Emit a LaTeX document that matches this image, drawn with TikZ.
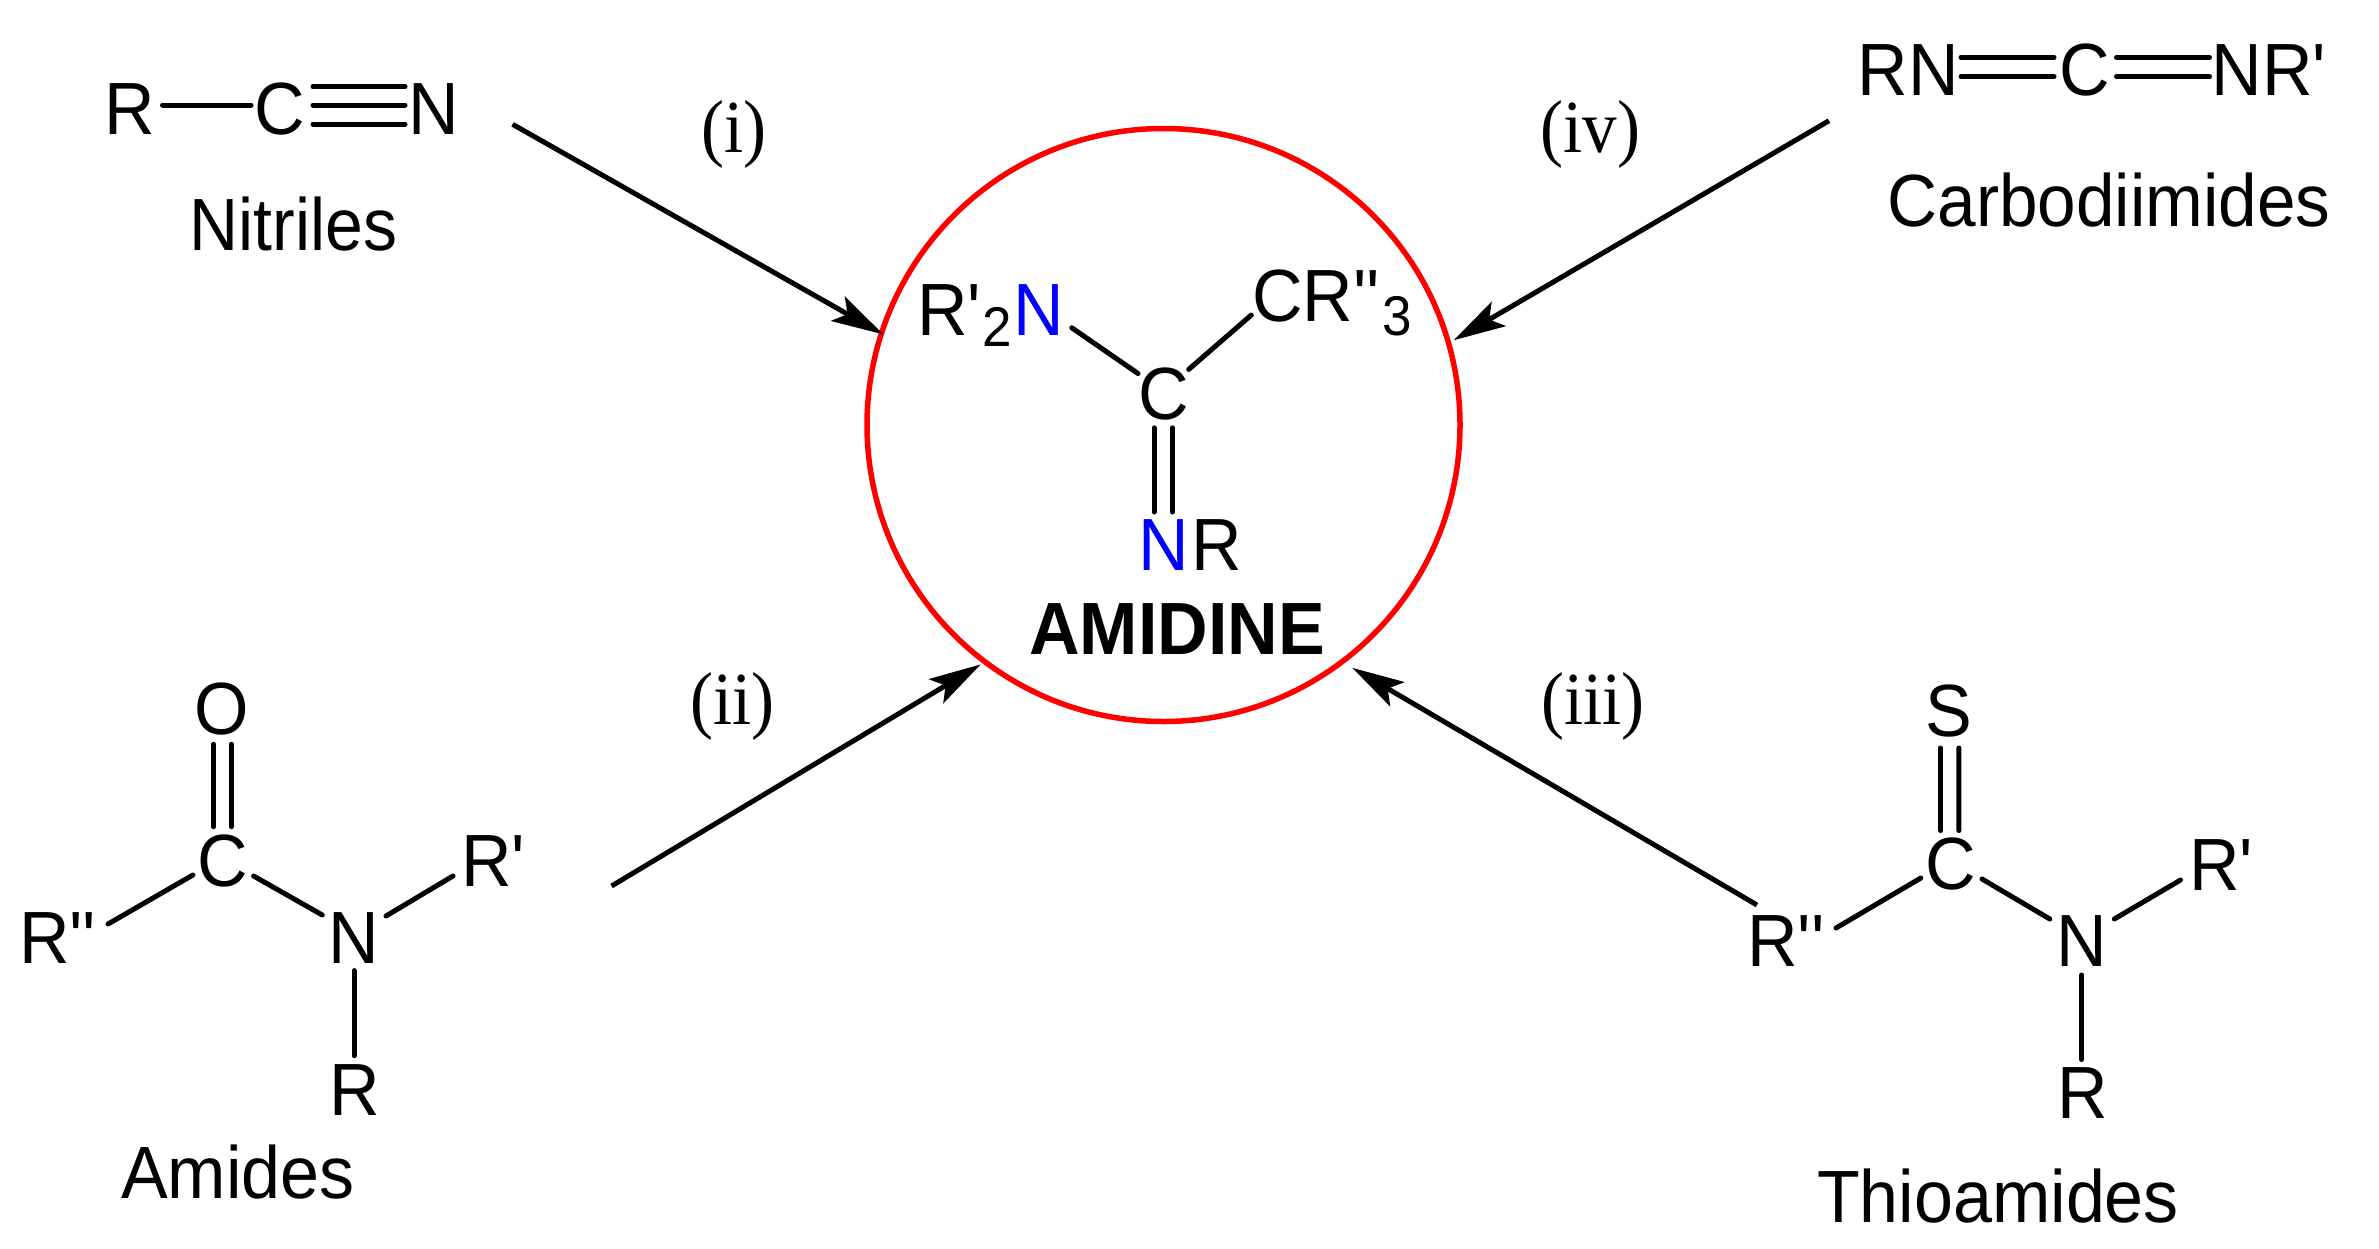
\documentclass[tikz,border=0pt]{standalone}
\usepackage{fontspec}
\newfontfamily\chemfont{Liberation Sans}[FakeStretch=0.946]
\newfontfamily\romanlabel{Liberation Serif}[FakeStretch=0.92]
\usetikzlibrary{arrows.meta}
\definecolor{ringred}{RGB}{255,0,0}
\definecolor{atomblue}{RGB}{0,0,255}
\tikzset{
  atom/.style={inner sep=0pt,outer sep=0pt,anchor=base,font=\chemfont\fontsize{74}{80}\selectfont},
  atomw/.style={atom,anchor=base west},
  classname/.style={atom},
  stepmark/.style={inner sep=0pt,outer sep=0pt,anchor=base,font=\romanlabel\fontsize{75}{80}\selectfont},
  bond/.style={line width=5pt,line cap=round,black},
  reaction/.style={line width=5pt,black,-{Stealth[length=52pt,width=28pt,inset=11pt]}},
}
\newcommand{\subs}[2]{\raisebox{#1}{\fontsize{56}{58}\selectfont #2}}
\begin{document}
\begin{tikzpicture}[x=1pt,y=-1pt]
\useasboundingbox (0,0) rectangle (2379,1248);
\fill[white] (0,0) rectangle (2379,1248);
% ring
\node[circle,draw=ringred,line width=5.5pt,minimum size=593pt,inner sep=0pt,outer sep=0pt] (ring) at (1163.5,425) {};
% amidine
\node[atom] (Cc) at (1163.5,419) {C};
\node[atomw] (Rtwo) at (917,335.5) {R'\kern2pt\subs{-10.5pt}{2}\kern1pt\textcolor{atomblue}{N}};
\node[atomw] (CRthree) at (1252,321) {CR''\kern3pt\subs{-14.5pt}{3}};
\node[atomw] (NR) at (1138,570.6) {\textcolor{atomblue}{N}\kern3pt R};
\node[atom,font=\chemfont\fontsize{74}{80}\selectfont\bfseries] (amidine) at (1177,654) {AMIDINE};
\draw[bond] ([shift={(154.8,-7.7)}]Rtwo.base west) -- ([shift={(-25.5,-45.5)}]Cc.base);
\draw[bond] ([shift={(25.2,-49.6)}]Cc.base) -- ([shift={(-0.7,-6)}]CRthree.base west);
\draw[bond] ([shift={(-9.5,8.8)}]Cc.base) -- ([shift={(16,-58.6)}]NR.base west);
\draw[bond] ([shift={(9,8.8)}]Cc.base) -- ([shift={(34.5,-58.6)}]NR.base west);
% nitrile
\node[atom] (Rn) at (130,134) {R};
\node[atom] (Cn) at (279.5,134) {C};
\node[atom] (Nn) at (433.3,134) {N};
\node[classname] (nitriles) at (293.5,250) {\scalebox{0.97}[1]{Nitriles}};
\draw[bond] ([shift={(32.5,-29)}]Rn.base) -- ([shift={(-28.5,-29)}]Cn.base);
\draw[bond] ([shift={(33.5,-47.3)}]Cn.base) -- ([shift={(-28.3,-47.3)}]Nn.base);
\draw[bond] ([shift={(33.5,-29)}]Cn.base) -- ([shift={(-28.3,-29)}]Nn.base);
\draw[bond] ([shift={(33.5,-10)}]Cn.base) -- ([shift={(-28.3,-10)}]Nn.base);
% carbodiimide
\node[atomw] (RNc) at (1857.5,95.7) {RN};
\node[atom] (Cd) at (2084.8,95.7) {C};
\node[atomw] (NRc) at (2211.7,95.7) {NR'};
\node[classname] (carbo) at (2109,226.5) {\scalebox{0.99}[1]{Carbodiimides}};
\draw[bond] ([shift={(103.5,-38.4)}]RNc.base west) -- ([shift={(-30.8,-38.4)}]Cd.base);
\draw[bond] ([shift={(103.5,-19)}]RNc.base west) -- ([shift={(-30.8,-19)}]Cd.base);
\draw[bond] ([shift={(31.7,-38.4)}]Cd.base) -- ([shift={(-2.2,-38.4)}]NRc.base west);
\draw[bond] ([shift={(31.7,-19)}]Cd.base) -- ([shift={(-2.2,-19)}]NRc.base west);
% amide
\node[atom] (Oam) at (221.8,734.5) {O};
\node[atom] (Cam) at (222.8,886) {C};
\node[atomw] (Ram) at (19,963) {R''};
\node[atom] (Nam) at (353.5,963) {N};
\node[atomw] (Rpam) at (461,886.6) {R'};
\node[atom] (Rbam) at (355,1115) {R};
\node[classname] (amides) at (238,1198.5) {Amides};
\draw[bond] ([shift={(-8.4,9.8)}]Oam.base) -- ([shift={(-9.4,-59.3)}]Cam.base);
\draw[bond] ([shift={(9.5,9.8)}]Oam.base) -- ([shift={(8.5,-59.3)}]Cam.base);
\draw[bond] ([shift={(89,-39)}]Ram.base west) -- ([shift={(-29.9,-11)}]Cam.base);
\draw[bond] ([shift={(30.8,-10)}]Cam.base) -- ([shift={(-31.2,-48)}]Nam.base);
\draw[bond] ([shift={(32.5,-47)}]Nam.base) -- ([shift={(-8,-10.6)}]Rpam.base west);
\draw[bond] ([shift={(0.5,7.6)}]Nam.base) -- ([shift={(-1,-59.3)}]Rbam.base);
% thioamide
\node[atom] (Sth) at (1949.3,736) {S};
\node[atom] (Cth) at (1951,889.5) {C};
\node[atomw] (Rth) at (1747.3,966.4) {R''};
\node[atom] (Nth) at (2081.3,966.4) {N};
\node[atomw] (Rpth) at (2189.3,890.5) {R'};
\node[atom] (Rbth) at (2083,1118.7) {R};
\node[classname] (thio) at (1998,1222) {Thioamides};
\draw[bond] ([shift={(-8.6,12)}]Sth.base) -- ([shift={(-10.3,-59)}]Cth.base);
\draw[bond] ([shift={(9.6,12)}]Sth.base) -- ([shift={(7.9,-59)}]Cth.base);
\draw[bond] ([shift={(88.7,-38.4)}]Rth.base west) -- ([shift={(-30.2,-11.5)}]Cth.base);
\draw[bond] ([shift={(31,-10.5)}]Cth.base) -- ([shift={(-31.5,-47.4)}]Nth.base);
\draw[bond] ([shift={(33,-47.4)}]Nth.base) -- ([shift={(-8.8,-10.5)}]Rpth.base west);
\draw[bond] ([shift={(0.5,8.6)}]Nth.base) -- ([shift={(-1.2,-59.2)}]Rbth.base);
% step labels
\node[stepmark] (si) at (734,152.5) {(i)};
\node[stepmark] (siv) at (1590.5,152.5) {(iv)};
\node[stepmark] (sii) at (732.5,724) {(ii)};
\node[stepmark] (siii) at (1593,724) {(iii)};
% reaction arrows
\coordinate (fromNitrile) at (512.6,124.3);
\coordinate (fromCarbo) at (1829,120.7);
\coordinate (fromAmide) at (611.6,886);
\coordinate (fromThio) at (1757,905);
\draw[reaction,shorten >=-2pt] (fromNitrile) -- (ring.162.7);
\draw[reaction,shorten >=6pt] (fromCarbo) -- (ring.16.9);
\draw[reaction,shorten >=5pt] (fromAmide) -- (ring.233.6);
\draw[reaction,shorten >=12pt] (fromThio) -- (ring.307.6);
\end{tikzpicture}
\end{document}
